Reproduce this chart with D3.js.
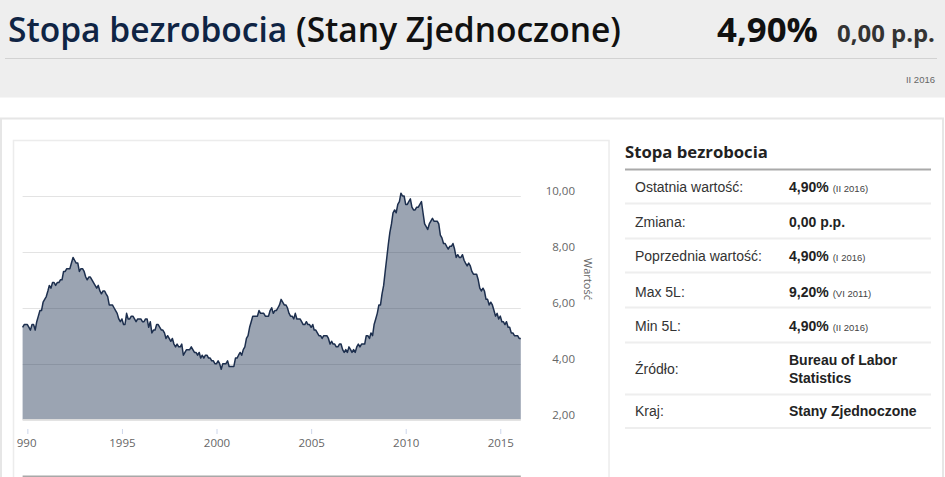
<!DOCTYPE html>
<html>
<head>
<meta charset="utf-8">
<script src="https://cdn.jsdelivr.net/npm/d3@7"></script>
<style>
html, body { margin: 0; padding: 0; background: #fff; overflow: hidden; }
</style>
</head>
<body>
<div id="chart"></div>
<script>
// Monthly US unemployment rate (%), series starts October 1989
var firstMonth = new Date(1989, 9, 1);
var rates1989 = [5.3, 5.4, 5.4];
var rates1990s = [
    5.4, 5.3, 5.2, 5.4, 5.4, 5.2, 5.5, 5.7, 5.9, 5.9, 6.2, 6.3,
    6.4, 6.6, 6.8, 6.7, 6.9, 6.9, 6.8, 6.9, 6.9, 7.0, 7.0, 7.3,
    7.3, 7.4, 7.4, 7.4, 7.6, 7.8, 7.7, 7.6, 7.6, 7.3, 7.4, 7.4,
    7.3, 7.1, 7.0, 7.1, 7.1, 7.0, 6.9, 6.8, 6.7, 6.8, 6.6, 6.5,
    6.6, 6.6, 6.5, 6.4, 6.1, 6.1, 6.1, 6.0, 5.9, 5.8, 5.6, 5.5,
    5.6, 5.4, 5.4, 5.8, 5.6, 5.6, 5.7, 5.7, 5.6, 5.5, 5.6, 5.6,
    5.6, 5.5, 5.5, 5.6, 5.6, 5.3, 5.5, 5.1, 5.2, 5.2, 5.4, 5.4,
    5.3, 5.2, 5.2, 5.1, 4.9, 5.0, 4.9, 4.8, 4.9, 4.7, 4.6, 4.7,
    4.6, 4.6, 4.7, 4.3, 4.4, 4.5, 4.5, 4.5, 4.6, 4.5, 4.4, 4.4,
    4.3, 4.4, 4.2, 4.3, 4.2, 4.3, 4.3, 4.2, 4.2, 4.1, 4.1, 4.0
];
var rates2000s = [
    4.0, 4.1, 4.0, 3.8, 4.0, 4.0, 4.0, 4.1, 3.9, 3.9, 3.9, 3.9,
    4.2, 4.2, 4.3, 4.4, 4.3, 4.5, 4.6, 4.9, 5.0, 5.3, 5.5, 5.7,
    5.7, 5.7, 5.7, 5.9, 5.8, 5.8, 5.8, 5.7, 5.7, 5.7, 5.9, 6.0,
    5.8, 5.9, 5.9, 6.0, 6.1, 6.3, 6.2, 6.1, 6.1, 6.0, 5.8, 5.7,
    5.7, 5.6, 5.8, 5.6, 5.6, 5.6, 5.5, 5.4, 5.4, 5.5, 5.4, 5.4,
    5.3, 5.4, 5.2, 5.2, 5.1, 5.0, 5.0, 4.9, 5.0, 5.0, 5.0, 4.9,
    4.7, 4.8, 4.7, 4.7, 4.6, 4.6, 4.7, 4.7, 4.5, 4.4, 4.5, 4.4,
    4.6, 4.5, 4.4, 4.5, 4.4, 4.6, 4.7, 4.6, 4.7, 4.7, 4.7, 5.0,
    5.0, 4.9, 5.1, 5.0, 5.4, 5.6, 5.8, 6.1, 6.1, 6.5, 6.8, 7.3,
    7.8, 8.3, 8.7, 9.0, 9.4, 9.5, 9.4, 9.7, 9.8, 10.1, 10.0, 10.0
];
var rates2010s = [
    9.7, 9.7, 9.8, 9.9, 9.6, 9.5, 9.5, 9.6, 9.6, 9.7, 9.8, 9.4,
    9.0, 8.9, 8.8, 9.0, 9.1, 9.2, 9.1, 9.1, 9.1, 9.0, 8.6, 8.5,
    8.3, 8.3, 8.2, 8.1, 8.2, 8.2, 8.3, 8.1, 7.8, 7.9, 7.8, 7.8,
    7.9, 7.7, 7.6, 7.5, 7.6, 7.5, 7.3, 7.2, 7.2, 7.2, 7.0, 6.7,
    6.6, 6.7, 6.6, 6.3, 6.3, 6.1, 6.2, 6.1, 5.9, 5.7, 5.8, 5.6,
    5.7, 5.5, 5.5, 5.4, 5.5, 5.3, 5.3, 5.1, 5.1, 5.0, 5.0, 5.0,
    4.9, 4.9
];

var yTickValues = [2, 4, 6, 8, 10];
var xTickYears = [1990, 1995, 2000, 2005, 2010, 2015];

var headerTitle = 'Stopa bezrobocia';
var headerCountry = '(Stany Zjednoczone)';
var headerValue = '4,90%';
var headerChange = '0,00 p.p.';
var headerPeriod = 'II 2016';

var infoTitle = 'Stopa bezrobocia';
var infoLabels = ['Ostatnia wartość:', 'Zmiana:', 'Poprzednia wartość:', 'Max 5L:', 'Min 5L:', 'Źródło:', 'Kraj:'];
var infoValues = ['4,90%', '0,00 p.p.', '4,90%', '9,20%', '4,90%', 'Bureau of Labor|Statistics', 'Stany Zjednoczone'];
var infoNotes = ['(II 2016)', '', '(I 2016)', '(VI 2011)', '(II 2016)', '', ''];

// --- Build series ---
var allRates = rates1989.concat(rates1990s, rates2000s, rates2010s);
var series = allRates.map(function (v, i) {
    return { date: new Date(firstMonth.getFullYear(), firstMonth.getMonth() + i, 1), value: v };
});

var width = 945, height = 477;
var svg = d3.select('#chart').append('svg')
    .attr('width', width)
    .attr('height', height)
    .style('display', 'block');

function fitWidth(sel, w) {
    var len = sel.node().getComputedTextLength();
    var fs = parseFloat(sel.attr('font-size'));
    sel.attr('font-size', (fs * w / len).toFixed(2));
}

// --- Header ---
svg.append('rect').attr('x', 0).attr('y', 0).attr('width', width).attr('height', 97.5).attr('fill', '#eeeeee');

var title = svg.append('text')
    .attr('x', 8).attr('y', 42)
    .attr('font-family', '"Open Sans", sans-serif')
    .attr('font-weight', 600)
    .attr('font-size', 32)
    .attr('fill', '#0f2444');
title.append('tspan').text(headerTitle + ' ');
title.append('tspan').attr('fill', '#111').text(headerCountry);
fitWidth(title, 613);

var hv = svg.append('text')
    .attr('x', 717).attr('y', 42)
    .attr('font-family', '"Open Sans", sans-serif')
    .attr('font-weight', 'bold')
    .attr('font-size', 30)
    .attr('fill', '#111')
    .text(headerValue);
fitWidth(hv, 101);

var hc = svg.append('text')
    .attr('x', 837).attr('y', 42)
    .attr('font-family', '"Open Sans", sans-serif')
    .attr('font-weight', 'bold')
    .attr('font-size', 20)
    .attr('fill', '#333')
    .text(headerChange);
fitWidth(hc, 98);

svg.append('line')
    .attr('x1', 5).attr('x2', 937).attr('y1', 58.5).attr('y2', 58.5)
    .attr('stroke', '#d2d2d2').attr('stroke-width', 1);

svg.append('text')
    .attr('x', 935).attr('y', 83)
    .attr('text-anchor', 'end')
    .attr('font-family', '"Liberation Sans", Arial, sans-serif')
    .attr('font-size', 9.5)
    .attr('fill', '#666')
    .text(headerPeriod);

// --- Containers ---
svg.append('rect')
    .attr('x', 1).attr('y', 118.5).attr('width', 942).attr('height', 420)
    .attr('fill', 'none').attr('stroke', '#e6e6e6').attr('stroke-width', 2);

svg.append('rect')
    .attr('x', 13.5).attr('y', 140.5).attr('width', 595.5).attr('height', 400)
    .attr('fill', '#fff').attr('stroke', '#ececec').attr('stroke-width', 1.5);

// --- Scales ---
var x = d3.scaleTime()
    .domain([series[0].date, series[series.length - 1].date])
    .range([22.6, 520.8]);
var y = d3.scaleLinear().domain([2, 10]).range([419.5, 196]);

var fmtComma = function (v) { return d3.format('.2f')(v).replace('.', ','); };

// Grid
svg.append('g').selectAll('line')
    .data(yTickValues)
    .join('line')
    .attr('x1', x.range()[0]).attr('x2', x.range()[1])
    .attr('y1', function (d) { return Math.round(y(d)) + 0.5; })
    .attr('y2', function (d) { return Math.round(y(d)) + 0.5; })
    .attr('stroke', '#e3e3e3').attr('stroke-width', 1);

// Area + line
var area = d3.area()
    .x(function (d) { return x(d.date); })
    .y0(y(2))
    .y1(function (d) { return y(d.value); });
var line = d3.line()
    .x(function (d) { return x(d.date); })
    .y(function (d) { return y(d.value); });

svg.append('path').datum(series)
    .attr('d', area)
    .attr('fill', '#1c3050').attr('fill-opacity', 0.44);

svg.append('path').datum(series)
    .attr('d', line)
    .attr('fill', 'none')
    .attr('stroke', '#1d2f4e').attr('stroke-width', 1.5)
    .attr('stroke-linejoin', 'round');

svg.append('line')
    .attr('x1', x.range()[0]).attr('x2', x.range()[1])
    .attr('y1', 419.5).attr('y2', 419.5)
    .attr('stroke', '#dcdcdc').attr('stroke-width', 1);

// X axis (first label is cut by the panel edge, as in the original)
var gxWrap = svg.append('g').attr('clip-path', 'url(#xclip)');
svg.append('clipPath').attr('id', 'xclip')
    .append('rect').attr('x', 16.5).attr('y', 420).attr('width', 590).attr('height', 40);

var xAxis = d3.axisBottom(x)
    .tickValues(xTickYears.map(function (yr) { return new Date(yr, 0, 1); }))
    .tickFormat(d3.timeFormat('%Y'))
    .tickSize(5)
    .tickPadding(5);

var gx = gxWrap.append('g')
    .attr('transform', 'translate(0,429)')
    .call(xAxis);
gx.select('.domain').remove();
gx.selectAll('.tick line').attr('stroke', '#ccd6eb');
gx.selectAll('.tick text')
    .attr('fill', '#666')
    .attr('font-family', '"Open Sans", sans-serif')
    .attr('font-size', 11.5);
gx.select('.tick text').attr('x', -4.5);

// Y axis (right side labels)
var yAxis = d3.axisRight(y)
    .tickValues(yTickValues)
    .tickFormat(fmtComma)
    .tickSize(0);
var gy = svg.append('g')
    .attr('transform', 'translate(575,0)')
    .call(yAxis);
gy.select('.domain').remove();
gy.selectAll('.tick text')
    .attr('text-anchor', 'end')
    .attr('x', 0)
    .attr('dy', '-0.1em')
    .attr('fill', '#666')
    .attr('font-family', '"Open Sans", sans-serif')
    .attr('font-size', 11.5);

svg.append('text')
    .attr('transform', 'translate(584,279) rotate(90)')
    .attr('text-anchor', 'middle')
    .attr('font-family', '"Open Sans", sans-serif')
    .attr('font-size', 11)
    .attr('fill', '#666')
    .text('Wartość');

// navigator edge at bottom
svg.append('line')
    .attr('x1', x.range()[0]).attr('x2', x.range()[1])
    .attr('y1', 476.5).attr('y2', 476.5)
    .attr('stroke', '#a8a8a8').attr('stroke-width', 2);

// --- Info table ---
var it = svg.append('text')
    .attr('x', 625).attr('y', 158)
    .attr('font-family', '"Open Sans", sans-serif')
    .attr('font-weight', 'bold')
    .attr('font-size', 16)
    .attr('fill', '#222')
    .text(infoTitle);
fitWidth(it, 143);

svg.append('line')
    .attr('x1', 625).attr('x2', 931).attr('y1', 169.5).attr('y2', 169.5)
    .attr('stroke', '#a9a9a9').attr('stroke-width', 2);

var rowCenters = [187, 222, 256, 292, 326, 369, 411];
var rowLines = [203.5, 238.5, 272.5, 307.5, 342.5, 394.5, 428];

svg.append('g').selectAll('line')
    .data(rowLines)
    .join('line')
    .attr('x1', 625).attr('x2', 931)
    .attr('y1', function (d) { return d; }).attr('y2', function (d) { return d; })
    .attr('stroke', '#eeeeee').attr('stroke-width', 2);

var rows = svg.append('g')
    .attr('font-family', '"Liberation Sans", Arial, sans-serif')
    .selectAll('g')
    .data(infoLabels)
    .join('g');

rows.append('text')
    .attr('x', 635)
    .attr('y', function (d, i) { return rowCenters[i] + 5; })
    .attr('font-size', 14)
    .attr('fill', '#333')
    .text(function (d) { return d; });

rows.each(function (d, i) {
    var parts = infoValues[i].split('|');
    var g = d3.select(this);
    parts.forEach(function (p, k) {
        var t = g.append('text')
            .attr('x', 789)
            .attr('y', rowCenters[i] + 5 + (parts.length > 1 ? (k - 0.5) * 17.5 : 0))
            .attr('font-size', 14)
            .attr('font-weight', 'bold')
            .attr('fill', '#222')
            .text(p);
        if (k === 0 && infoNotes[i]) {
            t.append('tspan')
                .attr('dx', 4)
                .attr('font-size', 9.5)
                .attr('font-weight', 'normal')
                .attr('fill', '#444')
                .text(infoNotes[i]);
        }
    });
});
</script>
</body>
</html>
